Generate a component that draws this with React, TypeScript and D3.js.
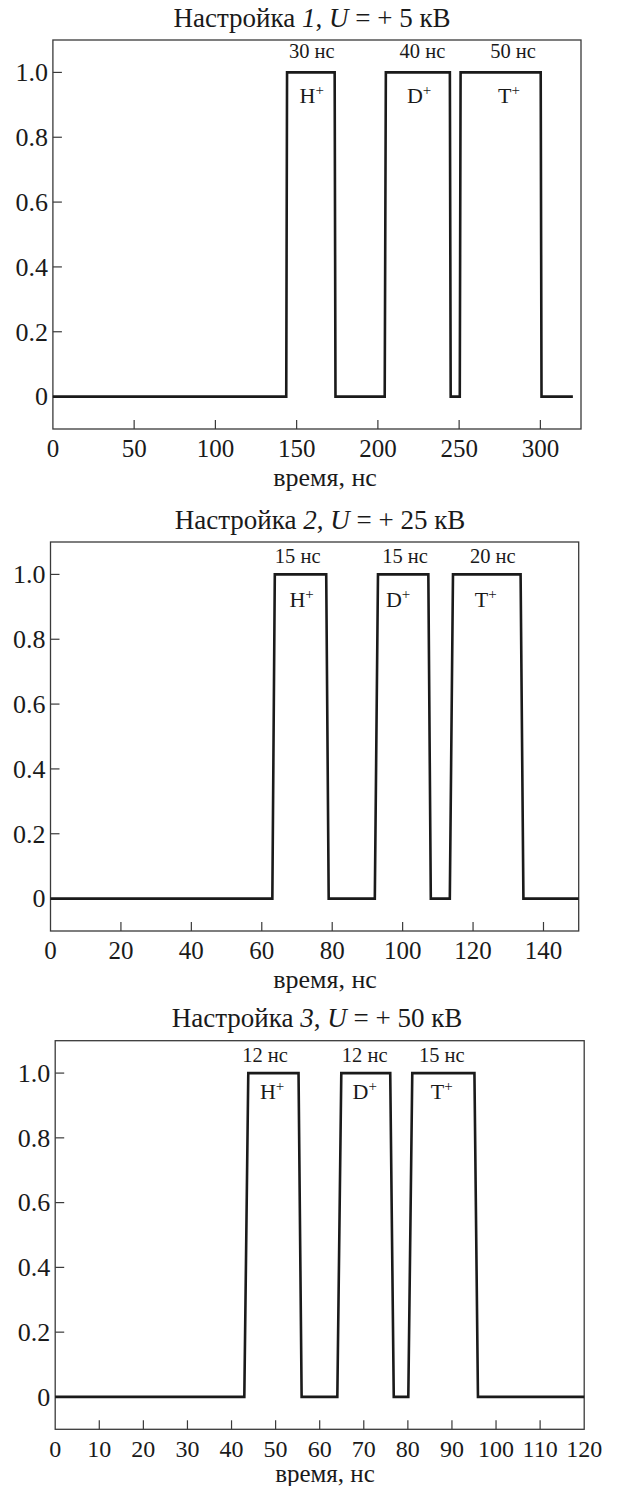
import React from "react"
import * as d3 from "d3"

// ---- data (time in ns, normalised signal) ----
const time1 = [0, 143.6, 144.1, 173.4, 173.9, 204.2, 204.9, 244.3, 244.8, 250.4, 250.9, 300.2, 300.7, 320]
const signal1 = [0, 0, 1, 1, 0, 0, 1, 1, 0, 0, 1, 1, 0, 0]
const time2 = [0, 63.0, 63.7, 78.3, 79.0, 92.1, 93.0, 107.3, 108.0, 113.4, 114.3, 133.5, 134.3, 150]
const signal2 = [0, 0, 1, 1, 0, 0, 1, 1, 0, 0, 1, 1, 0, 0]
const time3 = [0, 42.9, 43.8, 55.2, 55.9, 64.0, 64.9, 76.0, 76.8, 80.1, 81.0, 95.1, 95.9, 120]
const signal3 = [0, 0, 1, 1, 0, 0, 1, 1, 0, 0, 1, 1, 0, 0]

const xTicks1 = [0, 50, 100, 150, 200, 250, 300]
const xTicks2 = [0, 20, 40, 60, 80, 100, 120, 140]
const xTicks3 = [0, 10, 20, 30, 40, 50, 60, 70, 80, 90, 100, 110, 120]
const yTicks = [0, 0.2, 0.4, 0.6, 0.8, 1.0]

const ions = ["H", "D", "T"]
const widths1 = ["30 нс", "40 нс", "50 нс"]
const widths2 = ["15 нс", "15 нс", "20 нс"]
const widths3 = ["12 нс", "12 нс", "15 нс"]
const widthAt1 = [159.3, 227.4, 283.2]
const widthAt2 = [70.2, 100.7, 125.6]
const widthAt3 = [47.6, 70.2, 87.7]
const ionAt1 = [159.3, 225.4, 280.7]
const ionAt2 = [71.3, 98.7, 123.6]
const ionAt3 = [49.2, 70.2, 87.7]

const settingNo = ["1", "2", "3"]
const voltage = ["5", "25", "50"]
const xMax = [325, 150, 120]
const xLabel = "время, нс"

const FONT = "'Liberation Serif', 'Times New Roman', serif"
const INK = "#1a1a1a"

// geometry of each panel on the page
const layout = [
	{ left: 52.9, right: 581, top: 40, bottom: 429, titleX: 312, annY: -14, ionY: 31, tickY: 28, labY: 57, labSize: 26 },
	{ left: 50.5, right: 578.7, top: 542, bottom: 931, titleX: 320, annY: -11, ionY: 33, tickY: 28, labY: 57, labSize: 26 },
	{ left: 55.2, right: 584.2, top: 1040.7, bottom: 1429.3, titleX: 317, annY: -11, ionY: 26, tickY: 28, labY: 52.5, labSize: 25 },
]

type PanelProps = {
	index: number
	time: number[]
	signal: number[]
	xTicks: number[]
	widths: string[]
	widthAt: number[]
	ionAt: number[]
}

const Panel: React.FC<PanelProps> = ({ index, time, signal, xTicks, widths, widthAt, ionAt }) => {
	const box = layout[index]
	const x = d3.scaleLinear().domain([0, xMax[index]]).range([box.left, box.right])
	const y = d3.scaleLinear().domain([-0.1, 1.1]).range([box.bottom, box.top])
	const pts: [number, number][] = time.map((t, i) => [t, signal[i]])
	const line = d3
		.line<[number, number]>()
		.x((d) => x(d[0]))
		.y((d) => y(d[1]))
	const tickLen = 9

	return (
		<g fontFamily={FONT} fill={INK}>
			{/* title */}
			<text x={box.titleX} y={box.top - 13.5} fontSize={27} textAnchor="middle">
				<tspan>Настройка </tspan>
				<tspan fontStyle="italic">{settingNo[index]}</tspan>
				<tspan>, </tspan>
				<tspan fontStyle="italic">U</tspan>
				<tspan> = + {voltage[index]} кВ</tspan>
			</text>

			{/* frame */}
			<rect
				x={box.left}
				y={box.top}
				width={box.right - box.left}
				height={box.bottom - box.top}
				fill="none"
				stroke="#3a3a3a"
				strokeWidth={1.3}
			/>

			{/* x ticks */}
			{xTicks.map((t) => (
				<g key={"x" + t}>
					{t > 0 && t < xMax[index] && (
						<line x1={x(t)} x2={x(t)} y1={box.bottom} y2={box.bottom - tickLen} stroke="#3a3a3a" strokeWidth={1.2} />
					)}
					<text x={x(t)} y={box.bottom + box.tickY} fontSize={index === 2 ? 24 : 25} textAnchor="middle">
						{t}
					</text>
				</g>
			))}

			{/* y ticks */}
			{yTicks.map((v) => (
				<g key={"y" + v}>
					<line x1={box.left} x2={box.left + tickLen} y1={y(v)} y2={y(v)} stroke="#3a3a3a" strokeWidth={1.2} />
					<text x={box.left - 5} y={y(v)} dy="0.34em" fontSize={26} textAnchor="end">
						{v === 0 ? "0" : d3.format(".1f")(v)}
					</text>
				</g>
			))}

			<text x={325} y={box.bottom + box.labY} fontSize={box.labSize} textAnchor="middle">
				{xLabel}
			</text>

			{/* signal */}
			<path d={line(pts) || ""} fill="none" stroke={INK} strokeWidth={2.6} strokeLinejoin="miter" />

			{/* pulse widths and ion names */}
			{widths.map((w, i) => (
				<text key={"w" + i} x={x(widthAt[i])} y={y(1) + box.annY} fontSize={20.5} textAnchor="middle">
					{w}
				</text>
			))}
			{ions.map((ion, i) => (
				<text key={"i" + i} x={x(ionAt[i])} y={y(1) + box.ionY} fontSize={22} textAnchor="middle">
					<tspan>{ion}</tspan>
					<tspan fontSize={15} dy={-8}>
						+
					</tspan>
				</text>
			))}
		</g>
	)
}

export default function App() {
	return (
		<svg
			width={620}
			height={1486}
			style={{ position: "absolute", left: 0, top: 0, background: "#fff" }}>
			<Panel index={0} time={time1} signal={signal1} xTicks={xTicks1} widths={widths1} widthAt={widthAt1} ionAt={ionAt1} />
			<Panel index={1} time={time2} signal={signal2} xTicks={xTicks2} widths={widths2} widthAt={widthAt2} ionAt={ionAt2} />
			<Panel index={2} time={time3} signal={signal3} xTicks={xTicks3} widths={widths3} widthAt={widthAt3} ionAt={ionAt3} />
		</svg>
	)
}
